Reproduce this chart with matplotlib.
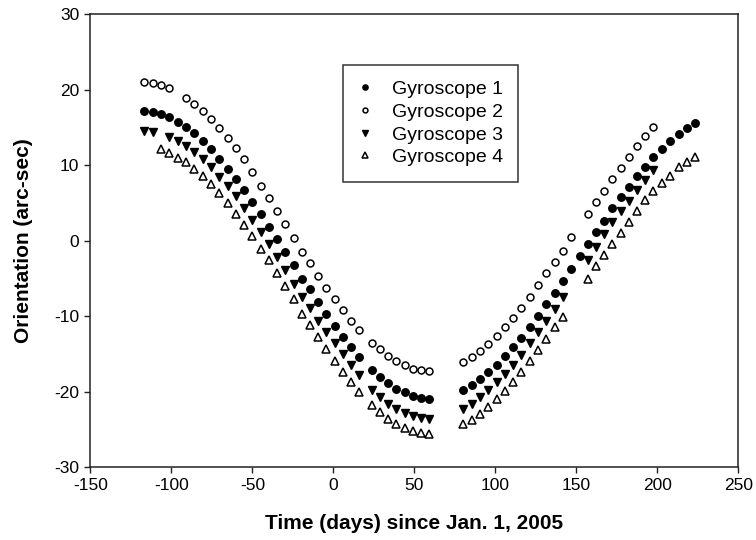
import matplotlib
matplotlib.use("Agg")
import matplotlib.pyplot as plt

plt.rcParams['font.family'] = ['Liberation Sans', 'DejaVu Sans']
plt.rcParams['axes.unicode_minus'] = False

# ---- data ----
g1_days = [-116.7, -111.6, -106.4, -101.3, -96.1, -90.9, -85.8, -80.6, -75.5, -70.4,
           -65.3, -60.2, -55.1, -50.0, -44.9, -39.8, -34.7, -29.6, -24.6, -19.5,
           -14.4, -9.3, -4.3, 0.8, 5.9, 11.0, 16.1, 23.6, 28.6, 33.7, 38.8, 43.9,
           49.0, 54.1, 59.1,
           80.1, 85.5, 90.7, 95.6, 100.8, 105.9, 111.1, 116.1, 121.2, 126.4, 131.5,
           136.7, 141.8, 146.9, 152.2, 157.0, 162.0, 167.1, 172.2, 177.3, 182.4,
           187.5, 192.6, 197.6, 202.7, 207.9, 213.1, 218.3, 223.4]
g1_vals = [17.21, 17.04, 16.74, 16.34, 15.72, 15.05, 14.26, 13.24, 12.10, 10.85,
           9.52, 8.20, 6.70, 5.13, 3.53, 1.87, 0.22, -1.45, -3.29, -5.06,
           -6.45, -8.07, -9.73, -11.30, -12.78, -14.16, -15.41, -17.08, -18.02, -18.86,
           -19.60, -20.09, -20.58, -20.85, -20.93,
           -19.78, -19.18, -18.32, -17.46, -16.42, -15.32, -14.16, -12.89, -11.43,
           -10.01, -8.46, -6.90, -5.37, -3.80, -1.97, -0.50, 1.09, 2.63, 4.27, 5.73,
           7.06, 8.55, 9.79, 11.03, 12.17, 13.20, 14.09, 14.88, 15.62]

g2_days = [-116.7, -111.6, -106.4, -101.3, -90.9, -85.8, -80.6, -75.5, -70.4,
           -65.3, -60.2, -55.1, -50.0, -44.9, -39.8, -34.7, -29.6, -24.6, -19.5,
           -14.4, -9.3, -4.3, 0.8, 5.9, 11.0, 16.1, 23.6, 28.6, 33.7, 38.8, 43.9,
           49.0, 54.1, 59.1,
           80.1, 85.5, 90.7, 95.6, 100.8, 105.9, 111.1, 116.1, 121.2, 126.4, 131.5,
           136.7, 141.8, 146.9, 157.0, 162.0, 167.1, 172.2, 177.3, 182.4, 187.5,
           192.6, 197.6]
g2_vals = [21.06, 20.85, 20.58, 20.19, 18.94, 18.14, 17.14, 16.07, 14.92,
           13.59, 12.23, 10.77, 9.08, 7.30, 5.68, 3.92, 2.21, 0.29, -1.48,
           -2.98, -4.67, -6.26, -7.76, -9.22, -10.64, -11.83, -13.50, -14.39, -15.23,
           -15.94, -16.47, -16.95, -17.17, -17.27,
           -16.10, -15.43, -14.64, -13.75, -12.65, -11.43, -10.24, -8.91, -7.45,
           -5.83, -4.35, -2.81, -1.39, 0.42, 3.51, 5.15, 6.60, 8.16, 9.66, 11.11,
           12.57, 13.86, 15.09]

g3_days = [-116.7, -111.6, -101.3, -96.1, -90.9, -85.8, -80.6, -75.5, -70.4,
           -65.3, -60.2, -55.1, -50.0, -44.9, -39.8, -34.7, -29.6, -24.6, -19.5,
           -14.4, -9.3, -4.3, 0.8, 5.9, 11.0, 16.1, 23.6, 28.6, 33.7, 38.8, 43.9,
           49.0, 54.1, 59.1,
           80.1, 85.5, 90.7, 95.6, 100.8, 105.9, 111.1, 116.1, 121.2, 126.4, 131.5,
           136.7, 141.8, 157.0, 162.0, 167.1, 172.2, 177.3, 182.4, 187.5, 192.6,
           197.6]
g3_vals = [14.52, 14.39, 13.69, 13.20, 12.49, 11.74, 10.77, 9.71, 8.47,
           7.23, 5.90, 4.35, 2.74, 1.17, -0.40, -2.17, -3.91, -5.68, -7.45,
           -8.93, -10.59, -12.17, -13.62, -15.05, -16.47, -17.80, -19.73, -20.72,
           -21.59, -22.25, -22.84, -23.24, -23.45, -23.67,
           -22.30, -21.59, -20.72, -19.78, -18.77, -17.61, -16.42, -15.09, -13.63,
           -12.10, -10.64, -9.12, -7.45, -2.50, -0.82, 0.82, 2.41, 3.91, 5.28,
           6.70, 8.02, 9.35]

g4_days = [-106.4, -101.3, -96.1, -90.9, -85.8, -80.6, -75.5, -70.4,
           -65.3, -60.2, -55.1, -50.0, -44.9, -39.8, -34.7, -29.6, -24.6, -19.5,
           -14.4, -9.3, -4.3, 0.8, 5.9, 11.0, 16.1, 23.6, 28.6, 33.7, 38.8, 43.9,
           49.0, 54.1, 59.1,
           80.1, 85.5, 90.7, 95.6, 100.8, 105.9, 111.1, 116.1, 121.2, 126.4, 131.5,
           136.7, 141.8, 157.0, 162.0, 167.1, 172.2, 177.3, 182.4, 187.5, 192.6,
           197.6, 202.7, 207.9, 213.1, 218.3, 223.4]
g4_vals = [12.10, 11.65, 10.99, 10.37, 9.48, 8.59, 7.49, 6.30,
           4.93, 3.55, 2.09, 0.62, -1.06, -2.60, -4.35, -6.03, -7.80, -9.66,
           -11.16, -12.80, -14.39, -15.94, -17.40, -18.77, -20.05, -21.78, -22.71,
           -23.58, -24.24, -24.83, -25.27, -25.53, -25.62,
           -24.36, -23.81, -22.97, -22.04, -21.04, -19.92, -18.73, -17.40, -15.98,
           -14.52, -13.06, -11.51, -10.10, -5.13, -3.40, -1.92, -0.46, 1.03, 2.49,
           3.91, 5.37, 6.56, 7.59, 8.55, 9.71, 10.37, 11.03]

labels = ["Gyroscope 1", "Gyroscope 2", "Gyroscope 3", "Gyroscope 4"]
x_ticks = [-150, -100, -50, 0, 50, 100, 150, 200, 250]
y_ticks = [-30, -20, -10, 0, 10, 20, 30]

# ---- figure ----
fig = plt.figure(figsize=(7.56, 5.40), dpi=100)
ax = fig.add_axes([0.1197, 0.1352, 0.8569, 0.8383])

ax.plot(g1_days, g1_vals, linestyle='none', marker='o', markersize=5.4,
        markerfacecolor='black', markeredgecolor='black', label=labels[0])
ax.plot(g2_days, g2_vals, linestyle='none', marker='o', markersize=5.0,
        markerfacecolor='white', markeredgecolor='black', markeredgewidth=1.1,
        label=labels[1])
ax.plot(g3_days, g3_vals, linestyle='none', marker='v', markersize=6.2,
        markerfacecolor='black', markeredgecolor='black', label=labels[2])
ax.plot(g4_days, g4_vals, linestyle='none', marker='^', markersize=5.8,
        markerfacecolor='white', markeredgecolor='black', markeredgewidth=1.1,
        label=labels[3])

ax.set_xlim(-150, 250)
ax.set_ylim(-30, 30)
ax.set_xticks(x_ticks)
ax.set_yticks(y_ticks)
ax.tick_params(direction='out', length=4.5, width=1.0, labelsize=12.5,
               top=False, right=False, color='#222222')
for s in ax.spines.values():
    s.set_linewidth(1.1)
    s.set_color('#222222')

ax.set_xlabel("Time (days) since Jan. 1, 2005", fontsize=15, fontweight='bold',
              labelpad=15)
ax.set_ylabel("Orientation (arc-sec)", fontsize=15, fontweight='bold',
              labelpad=15)

leg = ax.legend(loc='upper left', bbox_to_anchor=(0.39, 0.888), fontsize=14,
                frameon=True, fancybox=False, edgecolor='black',
                handlelength=0.6, handletextpad=1.1, borderpad=0.8,
                labelspacing=0.26, markerscale=0.7, borderaxespad=0)
leg.get_frame().set_linewidth(1.1)

fig.savefig("out.png", dpi=100)
